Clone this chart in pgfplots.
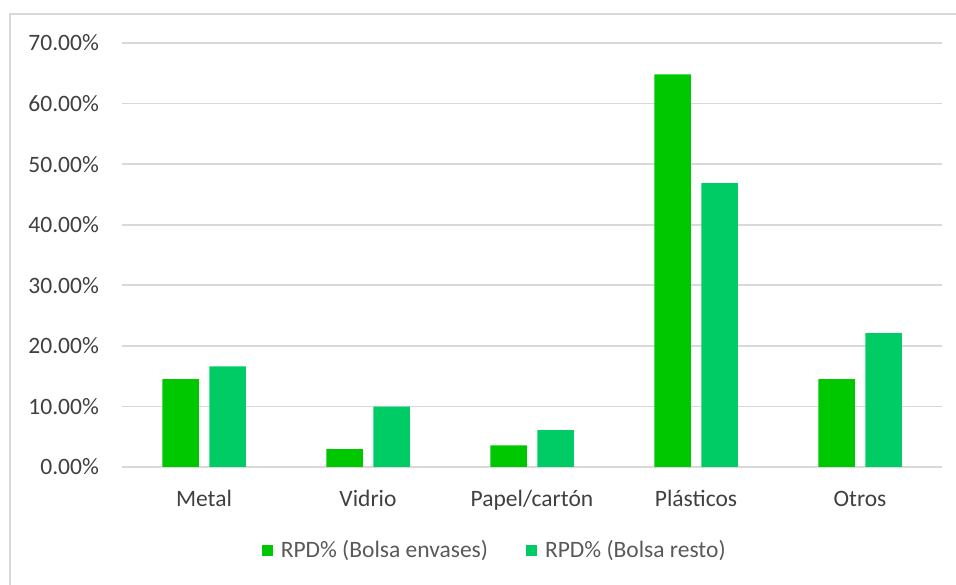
\documentclass[border=0pt]{standalone}
\usepackage{pgfplots}
\pgfplotsset{compat=1.18}
\usepackage{fontspec}
\setmainfont{Carlito}
\definecolor{ser1}{HTML}{00C800}
\definecolor{ser2}{HTML}{00CC66}
\definecolor{gridc}{HTML}{D9D9D9}
\definecolor{tickc}{HTML}{404040}
\definecolor{legc}{HTML}{595959}
\begin{document}
\begin{tikzpicture}[x=1bp,y=1bp]
\useasboundingbox (0,0) rectangle (956,585);
\draw[gridc, line width=2bp] (10,0) -- (10,571) -- (956,571);
\begin{axis}[
  at={(122bp,118bp)}, anchor=south west,
  scale only axis, width=820bp, height=424bp,
  xmin=-0.5, xmax=4.5, ymin=0, ymax=70,
  axis line style={draw=none},
  ybar=10.5bp, bar width=36.5bp,
  xtick={0,1,2,3,4},
  xticklabels={Metal,Vidrio,Papel/cartón,Plásticos,Otros},
  ytick={0,10,20,30,40,50,60,70},
  yticklabels={0.00\%,10.00\%,20.00\%,30.00\%,40.00\%,50.00\%,60.00\%,70.00\%},
  major tick length=0pt,
  ymajorgrids, grid style={gridc, line width=1.6bp},
  tick label style={font=\fontsize{23.5bp}{28bp}\selectfont, text=tickc},
  yticklabel style={anchor=east, inner sep=0pt, xshift=-23bp},
  xticklabel style={anchor=base, inner sep=0pt, yshift=-40bp},
  legend style={at={(0.4545,-0.196)}, anchor=center, draw=none, fill=none,
    font=\fontsize{23.5bp}{28bp}\selectfont, text=legc,
    legend columns=2, inner sep=0pt,
    /tikz/every odd column/.append style={column sep=6bp},
    /tikz/every even column/.append style={column sep=36bp},
    legend cell align=left},
  legend image code/.code={\draw[#1,draw=none] (0bp,-5.5bp) rectangle (11bp,5.5bp);},
]
\addplot[fill=ser1, draw=none] coordinates {(0,14.5) (1,2.93) (2,3.55) (3,64.8) (4,14.5)};
\addplot[fill=ser2, draw=none] coordinates {(0,16.6) (1,9.95) (2,6.1) (3,46.85) (4,22.1)};
\legend{RPD\% (Bolsa envases),RPD\% (Bolsa resto)}
\end{axis}
\end{tikzpicture}
\end{document}
